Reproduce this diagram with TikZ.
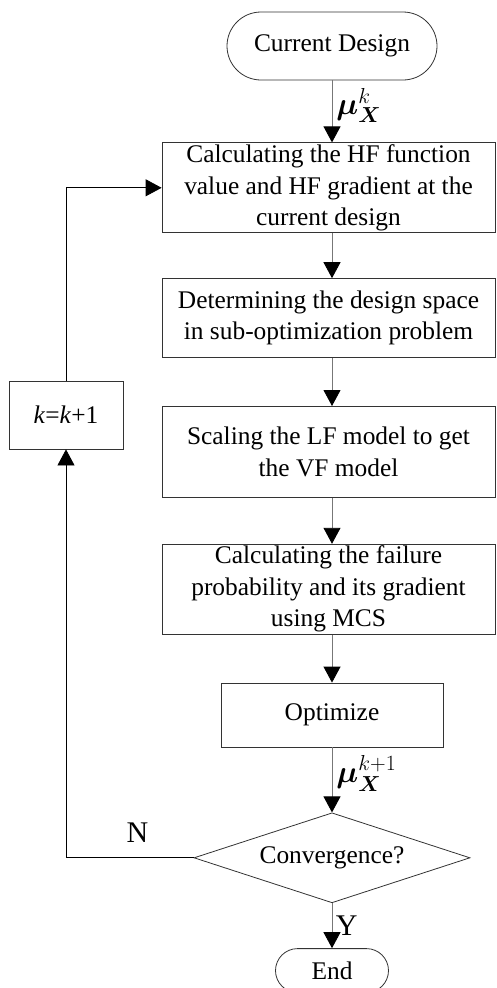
\RequirePackage{fix-cm}
\documentclass[tikz,border=0pt]{standalone}
\usepackage{amsmath}
\usepackage{bm}
\usepackage{fontspec}
\setmainfont{Liberation Serif}
\usetikzlibrary{shapes.geometric,shapes.misc,positioning,arrows.meta}
\definecolor{boxline}{HTML}{333333}
\definecolor{flowline}{HTML}{777777}

\begin{document}
\begin{tikzpicture}[>={Triangle[width=17pt,length=16pt,color=black,fill=black]}, node distance=45pt, auto,
  font=\fontsize{25.4}{31.5}\selectfont,
  terminal/.style={rounded rectangle, draw=boxline, line width=0.8pt, inner sep=0pt},
  process/.style={rectangle, draw=boxline, line width=0.8pt, align=center, inner sep=1pt, minimum width=333pt},
  decision/.style={diamond, draw=boxline, line width=0.8pt, aspect=3.07, inner sep=0pt, minimum width=276pt, minimum height=90pt},
  flow/.style={->, line width=0.9pt, every edge/.append style={draw=flowline}},
  loopback/.style={->, draw=black, line width=0.8pt},
  mulabel/.style={font=\fontsize{31}{34}\selectfont, inner sep=4pt, pos=0.4},
  yn/.style={font=\fontsize{30}{34}\selectfont}]
\useasboundingbox (0,0) rectangle (496pt,-988pt);
\node [terminal, minimum width=210pt, minimum height=68pt] (cd) at (332pt,-46pt) {Current Design};
\node [process, minimum height=90pt] (box1) [below=62pt of cd, xshift=-3.5pt] {Calculating the HF function\\ value and HF gradient at the\\ current design};
\node [process, minimum height=79pt] (box2) [below=of box1] {Determining the design space\\ in sub-optimization problem};
\node [process, minimum height=91pt] (box3) [below=48pt of box2] {Scaling the LF model to get\\ the VF model};
\node [process, minimum height=90pt] (box4) [below=46pt of box3] {Calculating the failure\\ probability and its gradient\\ using MCS};
\node [process, minimum width=222pt, minimum height=64pt] (opt) [below=48pt of box4, xshift=3.5pt] {Optimize};
\node [decision] (conv) [below=65pt of opt] {Convergence?};
\node [terminal, minimum width=113pt, minimum height=44pt] (stop) [below=of conv] {End};
\node [process, minimum width=114pt, minimum height=68pt] (inc) at (66pt,-415pt) {\textit{k}=\textit{k}+1};
\path [flow]
(cd.south) edge node [mulabel] {$\bm{\mu}_{\bm{X}}^{k}$} (box1.north -| cd)
(box1.south -| cd) edge (box2.north -| cd)
(box2.south -| cd) edge (box3.north -| cd)
(box3.south -| cd) edge (box4.north -| cd)
(box4.south -| opt) edge (opt.north)
(opt.south) edge node [mulabel] {$\bm{\mu}_{\bm{X}}^{k+1}$} (conv.north)
(conv.south) edge node [yn] {Y} (stop.north);
\draw [loopback] (conv.west) -| node [yn, pos=0.22, above=12pt] {N} (inc.south);
\draw [loopback] (inc.north) |- (box1.west);
\end{tikzpicture}
\end{document}
